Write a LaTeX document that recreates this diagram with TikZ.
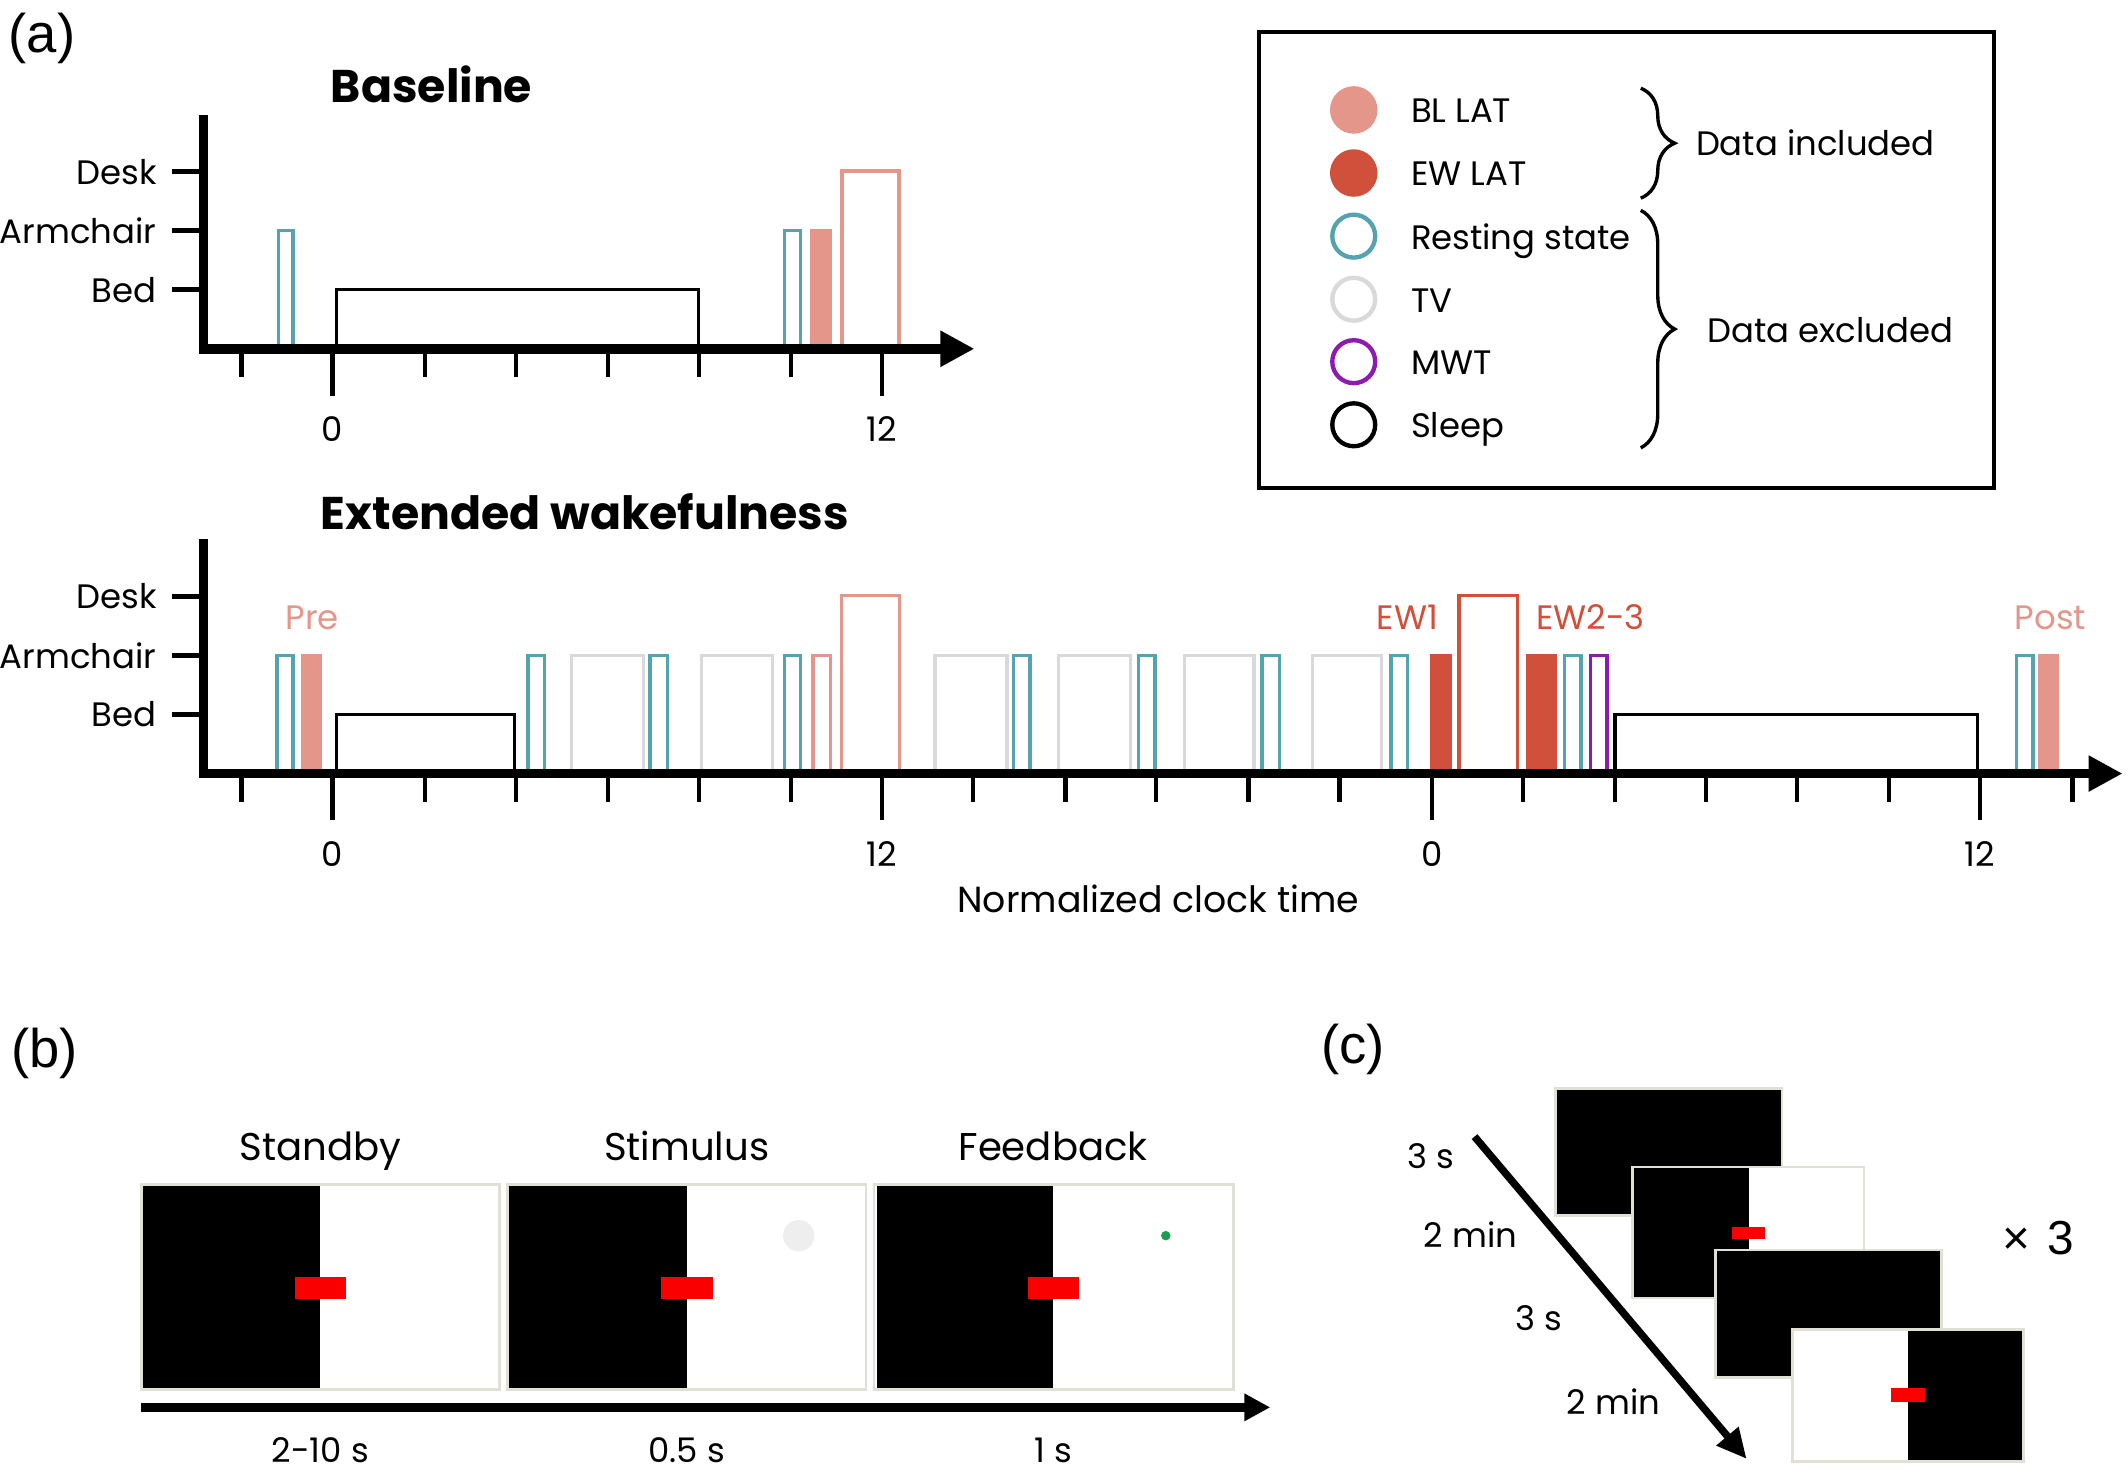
\documentclass[tikz,border=0pt]{standalone}
\usepackage{fontspec}
\setmainfont{Poppins}
\newfontfamily\arialfont{Liberation Sans}
\usetikzlibrary{arrows.meta,decorations.pathreplacing}

\definecolor{rscol}{RGB}{84,163,174}
\definecolor{tvcol}{RGB}{217,217,217}
\definecolor{blcol}{RGB}{229,150,138}
\definecolor{ewcol}{RGB}{208,80,60}
\definecolor{mwtcol}{RGB}{142,26,178}
\definecolor{scrcol}{RGB}{224,224,214}
\definecolor{redbar}{RGB}{250,0,0}
\definecolor{dotgreen}{RGB}{28,160,80}
\definecolor{dotgray}{RGB}{238,238,238}

\begin{document}
\begin{tikzpicture}[x=0.01cm, y=-0.01cm,
  lab/.style={font=\fontsize{7.1}{9}\selectfont, inner sep=0pt},
  xlab/.style={font=\fontsize{7.6}{9}\selectfont, inner sep=0pt},
  ttl/.style={font=\fontsize{9.6}{11}\selectfont\bfseries, inner sep=0pt},
  btl/.style={font=\fontsize{8.1}{10}\selectfont, inner sep=0pt},
  panel/.style={font=\arialfont\fontsize{11.4}{13}\selectfont, inner sep=0pt},
  axis/.style={line width=0.07cm, line join=miter, -{Triangle[length=0.25cm,width=0.25cm]}},
  xtick/.style={line width=0.032cm},
  ytick/.style={line width=0.035cm},
  act/.style={line width=0.025cm},
  rs/.style={act, draw=rscol},
  tv/.style={act, draw=tvcol},
  mwt/.style={act, draw=mwtcol},
  sleep/.style={act, draw=black},
  blout/.style={act, draw=blcol},
  ewout/.style={act, draw=ewcol},
  blfill/.style={fill=blcol},
  ewfill/.style={fill=ewcol},
  screen/.style={draw=scrcol, fill=white, line width=0.02cm},
  dark/.style={fill=black},
  cursor/.style={fill=redbar},
  ring/.style={line width=0.032cm},
  brc/.style={decorate, decoration={brace, amplitude=0.25cm}, line width=0.025cm},
]
\useasboundingbox (0,0) rectangle (1568,1082);
\fill[white] (0,0) rectangle (1568,1082);

% (a) baseline
\node[panel] (pa) at (31,28) {(a)};
\node[ttl] (btitle) at (318,62) {Baseline};
\draw[rs] (205,257) rectangle (216,170);
\draw[sleep] (248,257) rectangle (514.5,213.5);
\draw[rs] (578,257) rectangle (590,170);
\fill[blfill] (597,257) rectangle (613,169);
\draw[blout] (620.5,257) rectangle (662.5,126);
\coordinate (bytop) at (150,85);
\coordinate (bxtip) at (718,257);
\draw[axis] (bytop) |- (bxtip);
\node[lab, anchor=east] (bdesk) at (116,126.5) {Desk};
\node[lab, anchor=east] (barm) at (116,170) {Armchair};
\node[lab, anchor=east] (bbed) at (116,213.5) {Bed};
\draw[ytick] (127,126.5) -- (150,126.5);
\draw[ytick] (127,170) -- (150,170);
\draw[ytick] (127,213.5) -- (150,213.5);
\draw[xtick] (178,257) -- (178,278);
\draw[xtick] (245,257) -- (245,291.5);
\draw[xtick] (313,257) -- (313,278);
\draw[xtick] (380,257) -- (380,278);
\draw[xtick] (448,257) -- (448,278);
\draw[xtick] (515,257) -- (515,278);
\draw[xtick] (583,257) -- (583,278);
\draw[xtick] (650,257) -- (650,291.5);
\node[lab] (bzero) at (245,316) {0};
\node[lab] (btwelve) at (650,316) {12};

% (a) extended wakefulness
\begin{scope}[shift={(0,313)}]
\node[ttl] (etitle) at (431,64) {Extended wakefulness};
\draw[rs] (204,257) rectangle (216,170);
\fill[blfill] (222,257) rectangle (237,169);
\draw[sleep] (248,257) rectangle (379,213.5);
\draw[rs] (389,257) rectangle (401,170);
\draw[tv] (421,257) rectangle (474,170);
\draw[rs] (479,257) rectangle (492,170);
\draw[tv] (517,257) rectangle (569,170);
\draw[rs] (578,257) rectangle (590,170);
\draw[blout] (599,257) rectangle (612,170);
\draw[blout] (620,257) rectangle (663,126);
\draw[tv] (689,257) rectangle (742,170);
\draw[rs] (747,257) rectangle (759,170);
\draw[tv] (780,257) rectangle (833,170);
\draw[rs] (839,257) rectangle (851,170);
\draw[tv] (873,257) rectangle (924,170);
\draw[rs] (930,257) rectangle (943,170);
\draw[tv] (967,257) rectangle (1018,170);
\draw[rs] (1025,257) rectangle (1037,170);
\fill[ewfill] (1054,257) rectangle (1070,169);
\draw[ewout] (1075,257) rectangle (1118,126);
\fill[ewfill] (1124.5,257) rectangle (1147,169);
\draw[rs] (1153,257) rectangle (1165,170);
\draw[mwt] (1172,257) rectangle (1184,170);
\draw[sleep] (1190,257) rectangle (1457,213.5);
\draw[rs] (1486,257) rectangle (1498,170);
\fill[blfill] (1502,257) rectangle (1517,169);
\node[lab, text=blcol] (pre) at (230,142) {Pre};
\node[lab, text=ewcol] (ewone) at (1037,142) {EW1};
\node[lab, text=ewcol] (ewtwo) at (1172,142) {EW2-3};
\node[lab, text=blcol] (post) at (1511,142) {Post};
\coordinate (eytop) at (150,84);
\coordinate (extip) at (1564,257);
\draw[axis] (eytop) |- (extip);
\node[lab, anchor=east] (edesk) at (116,126.5) {Desk};
\node[lab, anchor=east] (earm) at (116,170) {Armchair};
\node[lab, anchor=east] (ebed) at (116,213.5) {Bed};
\draw[ytick] (127,126.5) -- (150,126.5);
\draw[ytick] (127,170) -- (150,170);
\draw[ytick] (127,213.5) -- (150,213.5);
\draw[xtick] (178,257) -- (178,278);
\draw[xtick] (245,257) -- (245,291.5);
\draw[xtick] (313,257) -- (313,278);
\draw[xtick] (380,257) -- (380,278);
\draw[xtick] (448,257) -- (448,278);
\draw[xtick] (515,257) -- (515,278);
\draw[xtick] (583,257) -- (583,278);
\draw[xtick] (650,257) -- (650,291.5);
\draw[xtick] (717,257) -- (717,278);
\draw[xtick] (785,257) -- (785,278);
\draw[xtick] (852,257) -- (852,278);
\draw[xtick] (920,257) -- (920,278);
\draw[xtick] (987,257) -- (987,278);
\draw[xtick] (1055,257) -- (1055,291.5);
\draw[xtick] (1122,257) -- (1122,278);
\draw[xtick] (1190,257) -- (1190,278);
\draw[xtick] (1257,257) -- (1257,278);
\draw[xtick] (1324,257) -- (1324,278);
\draw[xtick] (1392,257) -- (1392,278);
\draw[xtick] (1459,257) -- (1459,291.5);
\draw[xtick] (1527,257) -- (1527,278);
\node[lab] (ezero) at (245,316.5) {0};
\node[lab] (etwelve) at (650,316.5) {12};
\node[lab] (ezerob) at (1055,316.5) {0};
\node[lab] (etwelveb) at (1459,316.5) {12};
\end{scope}
\node[xlab] (xname) at (853.5,662) {Normalized clock time};

% legend
\draw[line width=0.03cm] (928,23.5) rectangle (1469,359.5);
\fill[blcol] (997.5,81) circle[radius=0.175cm];
\fill[ewcol] (997.5,127.5) circle[radius=0.175cm];
\draw[ring, rscol] (997.5,174) circle[radius=0.158cm];
\draw[ring, tvcol] (997.5,220.5) circle[radius=0.158cm];
\draw[ring, mwtcol] (997.5,266.5) circle[radius=0.158cm];
\draw[ring, black] (997.5,313) circle[radius=0.158cm];
\node[lab, anchor=base west] (lbl) at (1039,90.5) {BL LAT};
\node[lab, anchor=base west] (lew) at (1039,137) {EW LAT};
\node[lab, anchor=base west] (lrs) at (1039,183.5) {Resting state};
\node[lab, anchor=base west] (ltv) at (1039,230) {TV};
\node[lab, anchor=base west] (lmwt) at (1039,276) {MWT};
\node[lab, anchor=base west] (lsleep) at (1039,322.5) {Sleep};
\coordinate (inctop) at (1209,65);
\coordinate (incbot) at (1209,146);
\coordinate (exctop) at (1209,155);
\coordinate (excbot) at (1209,330);
\draw[brc] (inctop) -- (incbot);
\draw[brc] (exctop) -- (excbot);
\node[lab, anchor=west] (incl) at (1249,105) {Data included};
\node[lab, anchor=west] (excl) at (1257.5,243) {Data excluded};

% (b) trial
\node[panel] (pb) at (33,776) {(b)};
\node[btl, anchor=base] (standby) at (236,855) {Standby};
\node[btl, anchor=base] (stimulus) at (506,855) {Stimulus};
\node[btl, anchor=base] (feedback) at (776,855) {Feedback};
\filldraw[screen] (104,873) rectangle (368,1024);
\fill[dark] (105,874) rectangle (236,1023);
\fill[cursor] (217,941) rectangle (255,957);
\filldraw[screen] (374,873) rectangle (638,1024);
\fill[dark] (375,874) rectangle (506,1023);
\fill[cursor] (487,941) rectangle (525,957);
\fill[dotgray] (588.5,910.5) circle[radius=0.115cm];
\filldraw[screen] (644,873) rectangle (909,1024);
\fill[dark] (646,874) rectangle (776,1023);
\fill[cursor] (757.5,941) rectangle (795,957);
\fill[dotgreen] (859,910.5) circle[radius=0.035cm];
\coordinate (tstart) at (104,1037);
\coordinate (tend) at (936,1037);
\draw[line width=0.062cm, -{Triangle[length=0.19cm,width=0.19cm]}] (tstart) -- (tend);
\node[lab, anchor=base] (dstandby) at (236,1078) {2-10 s};
\node[lab, anchor=base] (dstimulus) at (506,1078) {0.5 s};
\node[lab, anchor=base] (dfeedback) at (776,1078) {1 s};

% (c) resting blocks
\node[panel] (pc) at (997,773) {(c)};
\filldraw[screen, fill=black] (1146,802) rectangle (1313,895.5);
\filldraw[screen] (1203,860) rectangle (1373.5,956.5);
\fill[dark] (1204,861) rectangle (1288.5,955.5);
\fill[cursor] (1276.5,904) rectangle (1300.5,913);
\filldraw[screen, fill=black] (1264,921) rectangle (1430.5,1015);
\filldraw[screen] (1321,979.5) rectangle (1491,1077);
\fill[dark] (1406,980.5) rectangle (1490,1076);
\fill[cursor] (1393.5,1023) rectangle (1418.5,1033);
\coordinate (cstart) at (1086.5,837.5);
\coordinate (cend) at (1287,1075);
\draw[line width=0.055cm, -{Triangle[length=0.22cm,width=0.2cm]}] (cstart) -- (cend);
\node[lab] (rone) at (1054,852) {3 s};
\node[lab] (sone) at (1083.5,910) {2 min};
\node[lab] (rtwo) at (1134,971) {3 s};
\node[lab] (stwo) at (1189,1033) {2 min};
\node[font=\arialfont\fontsize{10}{12}\selectfont, inner sep=0pt] (reps) at (1502,912) {×\hspace{0.35em}3};
\end{tikzpicture}
\end{document}
